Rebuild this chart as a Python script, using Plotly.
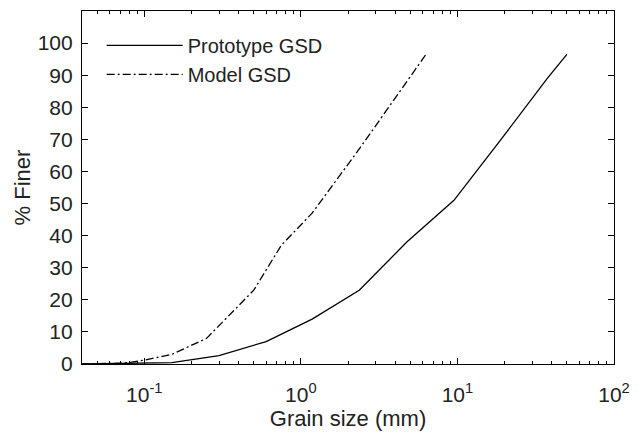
import plotly.graph_objects as go
import numpy as np

proto_x = [0.04, 0.075, 0.15, 0.3, 0.6, 1.18, 2.36, 4.75, 9.5, 19, 37.5, 50]
proto_y = [0, 0.1, 0.4, 2.6, 7, 14, 23, 38, 51, 70, 89, 96.5]
model_x = [0.04, 0.075, 0.1, 0.15, 0.25, 0.5, 0.75, 1.18, 2.36, 4.75, 6.3]
model_y = [0, 0.3, 1.2, 3, 8, 23, 37, 47, 67, 88, 96.5]

x_tickvals = [0.1, 1, 10, 100]
x_ticktext = ["10<sup>-1</sup>", "10<sup>0</sup>", "10<sup>1</sup>", "10<sup>2</sup>"]
y_tickvals = list(range(0, 101, 10))
minor_vals = [m * 10.0 ** e for e in range(-2, 2) for m in range(2, 10)]

font = "Liberation Sans, Arial, sans-serif"
tc = "#222"

fig = go.Figure()
fig.add_trace(go.Scatter(x=proto_x, y=proto_y, mode="lines", name="Prototype GSD",
                         line=dict(color="black", width=1.3)))
fig.add_trace(go.Scatter(x=model_x, y=model_y, mode="lines", name="Model GSD",
                         line=dict(color="black", width=1.3, dash="8px,3px,2px,3px")))

axis_common = dict(showline=True, linecolor="black", linewidth=1.2, mirror="ticks",
                   ticks="inside", tickcolor="black", showgrid=False, zeroline=False)

fig.update_xaxes(type="log", range=[np.log10(0.04), 2], tickvals=x_tickvals, ticktext=x_ticktext,
                 ticklen=6, tickfont=dict(size=21, color=tc), ticklabelstandoff=12,
                 title=dict(text="Grain size (mm)", font=dict(size=22, color=tc), standoff=0),
                 minor=dict(tickvals=minor_vals, ticks="inside", ticklen=3, tickcolor="black", showgrid=False),
                 **axis_common)
fig.update_yaxes(range=[0, 110], tickvals=y_tickvals, ticklen=6,
                 tickfont=dict(size=21, color=tc), ticklabelstandoff=4,
                 title=dict(text="% Finer", font=dict(size=22, color=tc), standoff=0),
                 **axis_common)

fig.update_layout(
    width=640, height=437,
    margin=dict(l=82, r=22, t=10, b=73),
    paper_bgcolor="white", plot_bgcolor="white",
    font=dict(family=font, color=tc),
    legend=dict(x=0.037, y=0.958, xanchor="left", yanchor="top", bgcolor="rgba(0,0,0,0)",
                font=dict(size=20, color=tc), tracegroupgap=0, itemwidth=76),
    showlegend=True,
)

fig.write_html("out.html")
